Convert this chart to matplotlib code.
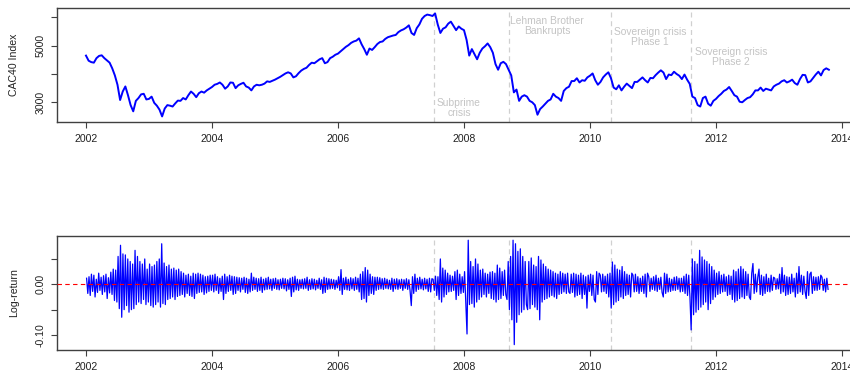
import numpy as np
import matplotlib
matplotlib.use("Agg")
import matplotlib.pyplot as plt

plt.rcParams["font.family"] = ["Liberation Sans", "DejaVu Sans"]

# CAC40 close, two readings a month (1st and 16th)
cac_2002 = [4650, 4470, 4420, 4400, 4560, 4640, 4660, 4560, 4480, 4400, 4200, 3950,
            3620, 3080, 3380, 3560, 3250, 2900, 2680, 3050, 3150, 3280, 3300, 3100]
cac_2003 = [3120, 3200, 2980, 2880, 2740, 2500, 2780, 2900, 2880, 2850, 2960, 3060,
            3050, 3150, 3100, 3250, 3380, 3300, 3180, 3320, 3380, 3340, 3420, 3480]
cac_2004 = [3540, 3620, 3650, 3700, 3620, 3480, 3560, 3700, 3690, 3500, 3600, 3650,
            3690, 3560, 3520, 3420, 3560, 3620, 3600, 3620, 3660, 3740, 3720, 3760]
cac_2005 = [3800, 3850, 3900, 3960, 4020, 4060, 4020, 3880, 3920, 4030, 4120, 4180,
            4220, 4320, 4400, 4380, 4450, 4520, 4560, 4380, 4420, 4560, 4610, 4680]
cac_2006 = [4720, 4800, 4880, 4960, 5020, 5100, 5150, 5180, 5260, 5050, 4880, 4680,
            4900, 4850, 4950, 5060, 5130, 5150, 5240, 5300, 5330, 5360, 5380, 5480]
cac_2007 = [5540, 5580, 5640, 5720, 5450, 5380, 5620, 5750, 5950, 6050, 6100, 6080,
            6050, 6140, 5750, 5450, 5600, 5650, 5780, 5850, 5700, 5550, 5680, 5600]
cac_2008 = [5550, 5200, 4650, 4880, 4700, 4520, 4750, 4900, 4980, 5080, 4950, 4750,
            4350, 4150, 4380, 4430, 4350, 4150, 3950, 3350, 3450, 3050, 3200, 3250]
cac_2009 = [3200, 3050, 3000, 2900, 2560, 2760, 2850, 2950, 3050, 3100, 3300, 3200,
            3150, 3050, 3400, 3500, 3550, 3750, 3750, 3850, 3700, 3780, 3760, 3880]
cac_2010 = [3940, 4020, 3780, 3620, 3720, 3880, 3980, 4060, 3850, 3520, 3460, 3600,
            3420, 3550, 3660, 3580, 3500, 3720, 3720, 3800, 3880, 3780, 3700, 3860]
cac_2011 = [3850, 3960, 4050, 4130, 4050, 3820, 3980, 3960, 4080, 4000, 3940, 3820,
            3980, 3800, 3650, 3200, 3150, 2900, 2850, 3150, 3200, 2950, 2880, 3050]
cac_2012 = [3120, 3220, 3300, 3400, 3450, 3540, 3400, 3250, 3200, 3020, 3000, 3080,
            3150, 3180, 3280, 3420, 3420, 3520, 3400, 3480, 3450, 3420, 3560, 3620]
cac_2013 = [3660, 3740, 3780, 3700, 3740, 3800, 3680, 3620, 3820, 3970, 3960, 3700,
            3740, 3860, 3980, 4080, 3950, 4140, 4200, 4150]

# largest daily log-return swing of each week, in thousandths
ret_2002 = [12, -18, 15, -22, 20, -14, 18, -25, 10, -16, 22, -12, 14, -20, 17, -15,
            20, -28, 13, -17, 24, -20, 30, -32, 28, -35, 55, -48, 77, -65, 60, -50,
            58, -42, 50, -55, 45, -50, 40, -48, 67, -40, 55, -35, 45, -38, 40, -30,
            50, -40, 30, -35]
ret_2003 = [40, -42, 35, -45, 38, -40, 45, -35, 50, -45, 80, -38, 42, -40, 35, -30,
            38, -28, 30, -25, 32, -30, 28, -24, 30, -22, 25, -20, 22, -25, 18, -18,
            20, -22, 16, -24, 22, -28, 20, -18, 22, -16, 20, -15, 18, -20, 15, -17,
            16, -14, 18, -12]
ret_2004 = [18, -15, 20, -12, 15, -18, 12, -14, 16, -30, 20, -18, 15, -14, 18, -12,
            16, -20, 15, -18, 14, -12, 13, -15, 12, -10, 14, -16, 12, -18, 10, -15,
            22, -12, 14, -10, 12, -14, 11, -12, 14, -16, 10, -11, 12, -10, 14, -9,
            10, -12, 11, -8]
ret_2005 = [12, -10, 9, -11, 10, -8, 12, -9, 11, -13, 9, -10, 12, -24, 14, -15,
            16, -11, 10, -12, 9, -8, 10, -9, 11, -8, 14, -12, 9, -10, 11, -9,
            10, -11, 8, -8, 12, -10, 9, -18, 14, -16, 12, -10, 11, -9, 10, -8,
            9, -10, 8, -7]
ret_2006 = [15, -12, 29, -20, 12, -10, 14, -11, 10, -12, 13, -9, 11, -12, 14, -10,
            12, -15, 20, -30, 25, -28, 33, -35, 28, -22, 20, -18, 15, -20, 14, -12,
            14, -10, 13, -9, 11, -10, 12, -8, 10, -9, 8, -10, 12, -14, 10, -9,
            11, -10, 9, -8]
ret_2007 = [10, -12, 9, -8, 11, -10, 9, -13, -42, 15, -18, 20, -14, 12, -10, 14,
            -9, 10, -11, 12, -9, 10, -14, 12, -15, 11, 10, -12, 16, -22, 15, -30,
            50, -35, 32, -25, 28, -20, 22, -15, 18, -14, 16, -12, 25, -30, 28, -22,
            20, -18, 15, -16]
ret_2008 = [25, -35, -98, 87, -40, 45, -38, 35, -45, 50, -35, 40, -30, 28, -25, 30,
            -20, 22, -25, 20, -18, 24, -28, 25, -30, 22, -35, 38, -30, 32, -28, 25,
            -22, 28, -20, -30, 45, -50, 55, -70, 87, -119, 80, -75, 65, -60, 70, -55,
            55, -50, 45, -40]
ret_2009 = [-50, 45, -48, 52, -40, 38, -45, 35, -50, 55, -70, 48, -35, 40, -30, 35,
            -28, 30, -25, 28, -22, 25, -25, 22, -28, 20, -20, 25, -18, 22, -15, 20,
            -18, 22, -15, -18, 20, -16, 22, -25, 20, -22, 18, -20, 22, -28, 18, -20,
            15, -47, 18, -14]
ret_2010 = [20, -22, 18, -30, -35, 25, -20, 22, 18, -15, 20, -14, 16, -18, 20, -25,
            22, -47, 44, -40, 38, -35, 30, -32, 28, -25, 35, -28, 25, -22, 20, -20,
            18, -25, 22, 18, -15, 20, -14, 15, -18, 12, -14, 16, -18, 20, -25, 22,
            15, -14, 12, -10]
ret_2011 = [15, -12, 18, -14, 12, -10, 14, -16, -25, 22, -18, 20, -15, 12, -14, 10,
            -12, 14, -12, 15, -10, 12, -15, 12, -14, 16, -18, 20, -22, 18, -25, -90,
            50, -60, 45, -55, 40, -50, 67, -45, 54, -40, 48, -35, 45, -50, 40, -38,
            35, -30, 28, -25]
ret_2012 = [22, -20, 25, -18, 18, -15, 20, -14, 15, -22, 18, -20, 16, -30, 28, -35,
            25, -32, 30, -28, 35, -25, 30, -28, 25, -22, 20, -25, -30, 22, 41, -18,
            20, -15, 14, 30, -20, 18, -22, 15, -18, 20, -14, 12, -15, 18, -12, 14,
            12, -10, 11, -9]
ret_2013 = [20, -18, 33, -15, 18, -22, 15, -20, 14, -18, 20, -15, 12, -25, 22, -18,
            35, -15, 18, -20, 16, -14, -28, 25, -22, 20, 24, -18, 15, -12, 14, -12,
            15, -10, 18, 14, -12, 10, -15, 12, -10]

years = list(range(2002, 2014))
cac_by_year = [cac_2002, cac_2003, cac_2004, cac_2005, cac_2006, cac_2007,
               cac_2008, cac_2009, cac_2010, cac_2011, cac_2012, cac_2013]
ret_by_year = [ret_2002, ret_2003, ret_2004, ret_2005, ret_2006, ret_2007,
               ret_2008, ret_2009, ret_2010, ret_2011, ret_2012, ret_2013]

# crisis dates (decimal years) and their captions
event_dates = [2007.53, 2008.71, 2010.34, 2011.60]
event_names = ["Subprime\ncrisis", "Lehman Brother\nBankrupts",
               "Sovereign crisis\nPhase 1", "Sovereign crisis\nPhase 2"]

t_px, px = [], []
for yr, vals in zip(years, cac_by_year):
    for k, v in enumerate(vals):
        t_px.append(yr + k / 24)
        px.append(v)

t_ret, ret = [], []
for yr, vals in zip(years, ret_by_year):
    for k, v in enumerate(vals):
        t_ret.append(yr + (k + 0.5) / 52)
        ret.append(v / 1000)

t_px = np.array(t_px)
t_ret = np.array(t_ret)

fig = plt.figure(figsize=(8.5, 3.77), dpi=100)
ax1 = fig.add_axes([0.06706, 0.67639, 0.94235, 0.30159])
ax2 = fig.add_axes([0.06706, 0.07162, 0.94235, 0.30239])

frame = "#404040"
grey_txt = "#c4c4c4"

for ax in (ax1, ax2):
    ax.set_xlim(2001.54, 2014.254)
    ax.set_xticks(range(2002, 2016, 2))
    ax.tick_params(direction="out", length=4.3, width=0.8, color=frame,
                   labelsize=7.6, labelcolor="#222222", pad=4)
    for s in ax.spines.values():
        s.set_color(frame)
        s.set_linewidth(1.0)
    for d in event_dates:
        ax.axvline(d, color="#d0d0d0", lw=0.9, ls=(0, (4, 3)), zorder=1)

# top panel: index level
ax1.plot(t_px, px, color="blue", lw=1.4, zorder=3)
ax1.set_ylim(2303, 6322)
ax1.set_yticks([3000, 4000, 5000, 6000])
ax1.set_yticklabels(["3000", "", "5000", ""], rotation=90, va="center")

label_pos = [(2007.92, 2800), (2009.32, 5700), (2010.95, 5300), (2012.24, 4600)]
for (x, y), name in zip(label_pos, event_names):
    ax1.text(x, y, name, ha="center", va="center", fontsize=7.4,
             color=grey_txt, linespacing=0.95, zorder=2)

# bottom panel: log returns
ax2.plot(t_ret, ret, color="blue", lw=0.9, zorder=3)
ax2.axhline(0, color="red", lw=0.8, ls=(0, (4, 3)), zorder=4)
ax2.set_ylim(-0.1296, 0.0953)
ax2.set_yticks([-0.10, -0.05, 0.0, 0.05])
ax2.set_yticklabels(["-0.10", "", "0.00", ""], rotation=90, va="center")

fig.text(14 / 850, 1 - 65 / 377, "CAC40 Index", rotation=90, ha="center",
         va="center", fontsize=7.6, color="#222222")
fig.text(14 / 850, 1 - 293 / 377, "Log-return", rotation=90, ha="center",
         va="center", fontsize=7.6, color="#222222")

fig.savefig("out.png", dpi=100)
